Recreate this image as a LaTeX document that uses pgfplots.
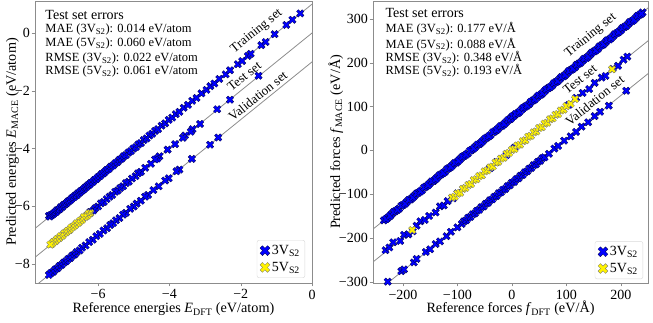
\documentclass[border=0pt]{standalone}
\usepackage{fontspec}
\setmainfont{Liberation Serif}
\usepackage{pgfplots}
\pgfplotsset{compat=1.18}

% filled "X" marker like matplotlib's 'X'
\pgfdeclareplotmark{bigX}{%
  \pgftransformrotate{45}%
  \pgfpathmoveto{\pgfqpoint{0.32\pgfplotmarksize}{\pgfplotmarksize}}%
  \pgfpathlineto{\pgfqpoint{0.32\pgfplotmarksize}{0.32\pgfplotmarksize}}%
  \pgfpathlineto{\pgfqpoint{\pgfplotmarksize}{0.32\pgfplotmarksize}}%
  \pgfpathlineto{\pgfqpoint{\pgfplotmarksize}{-0.32\pgfplotmarksize}}%
  \pgfpathlineto{\pgfqpoint{0.32\pgfplotmarksize}{-0.32\pgfplotmarksize}}%
  \pgfpathlineto{\pgfqpoint{0.32\pgfplotmarksize}{-\pgfplotmarksize}}%
  \pgfpathlineto{\pgfqpoint{-0.32\pgfplotmarksize}{-\pgfplotmarksize}}%
  \pgfpathlineto{\pgfqpoint{-0.32\pgfplotmarksize}{-0.32\pgfplotmarksize}}%
  \pgfpathlineto{\pgfqpoint{-\pgfplotmarksize}{-0.32\pgfplotmarksize}}%
  \pgfpathlineto{\pgfqpoint{-\pgfplotmarksize}{0.32\pgfplotmarksize}}%
  \pgfpathlineto{\pgfqpoint{-0.32\pgfplotmarksize}{0.32\pgfplotmarksize}}%
  \pgfpathlineto{\pgfqpoint{-0.32\pgfplotmarksize}{\pgfplotmarksize}}%
  \pgfpathclose
  \pgfusepathqfillstroke
}

\tikzset{
  errtitle/.style={anchor=base west, font=\fontsize{14}{16}\selectfont},
  errline/.style={anchor=base west, font=\fontsize{12.5}{14}\selectfont},
  setlabel/.style={rotate=39, font=\fontsize{13}{15}\selectfont},
  axlabel/.style={anchor=base, font=\fontsize{14.2}{17}\selectfont},
}

\pgfplotsset{
  vthree/.style={only marks, mark=bigX, mark size=4pt,
    mark options={fill=blue, draw=black!70!blue, line width=0.3pt}},
  vfive/.style={only marks, mark=bigX, mark size=4pt,
    mark options={fill=yellow, draw=black!55, line width=0.3pt}},
  diag/.style={black!45, line width=0.8pt, forget plot},
  panel/.style={
    scale only axis, clip=true,
    axis line style={black!45}, tick style={black!45},
    tick align=outside, tick pos=left, major tick length=3.5pt,
    ticklabel style={font=\fontsize{14}{16}\selectfont},
    xticklabel style={inner sep=3pt},
    yticklabel style={inner sep=1.5pt},
    legend cell align=left,
    legend image post style={mark size=5.3pt},
    legend style={anchor=south east, draw=black!15, rounded corners=2pt,
      font=\fontsize{14}{16}\selectfont, row sep=2pt, inner sep=3pt},
  },
}

\begin{document}
\begin{tikzpicture}
% ---------------- energies ----------------
\begin{axis}[panel, name=E, at={(0pt,0pt)}, width=277pt, height=282pt,
  xmin=-7.77, xmax=0, ymin=-8.66, ymax=1.11,
  xtick={-6,-4,-2,0}, xticklabels={−6,−4,−2,0},
  ytick={-8,-6,-4,-2,0}, yticklabels={−8,−6,−4,−2,0},
  legend style={at={(0.975,0.018)}},
]
% training set, shifted by +1
\addplot[vthree] coordinates {
(-7.38,-6.33)(-7.35,-6.36)(-7.32,-6.30)(-7.28,-6.29)(-7.25,-6.26)(-7.22,-6.22)
(-7.18,-6.20)(-7.15,-6.14)(-7.11,-6.12)(-7.08,-6.10)(-7.04,-6.03)(-7.00,-6.02)
(-6.96,-5.95)(-6.92,-5.93)(-6.88,-5.89)(-6.84,-5.83)(-6.80,-5.81)(-6.76,-5.77)
(-6.72,-5.71)(-6.68,-5.69)(-6.64,-5.63)(-6.60,-5.62)(-6.56,-5.55)(-6.52,-5.53)
(-6.48,-5.47)(-6.44,-5.45)(-6.40,-5.41)(-6.36,-5.35)(-6.32,-5.33)(-6.28,-5.27)
(-6.24,-5.25)(-6.20,-5.19)(-6.15,-5.16)(-6.10,-5.09)(-6.05,-5.06)(-6.00,-4.99)
(-5.95,-4.96)(-5.90,-4.89)(-5.85,-4.86)(-5.80,-4.80)(-5.75,-4.74)(-5.70,-4.71)
(-5.64,-4.63)(-5.58,-4.59)(-5.52,-4.51)(-5.46,-4.47)(-5.40,-4.39)(-5.34,-4.35)
(-5.28,-4.27)(-5.22,-4.23)(-5.15,-4.14)(-5.08,-4.09)(-5.01,-4.00)(-4.94,-3.95)
(-4.87,-3.86)(-4.80,-3.81)(-4.72,-3.71)(-4.64,-3.65)(-4.56,-3.55)(-4.48,-3.49)
(-4.40,-3.39)(-4.32,-3.33)(-4.22,-3.21)(-4.12,-3.13)(-4.02,-3.01)(-3.92,-2.93)
(-3.82,-2.81)(-3.72,-2.73)(-3.60,-2.59)(-3.48,-2.49)(-3.36,-2.35)(-3.24,-2.25)
(-3.10,-2.09)(-2.96,-1.97)(-2.85,-1.84)(-2.74,-1.75)(-2.60,-1.59)(-2.42,-1.43)
(-2.30,-1.29)(-2.08,-1.08)(-1.96,-0.97)(-1.80,-0.79)(-1.72,-0.72)(-1.42,-0.42)
(-1.30,-0.31)(-1.05,-0.04)(-0.72,0.28)(-0.55,0.46)(-0.33,0.68)
};
\addlegendentry{3V\textsubscript{S2}}
% test set
\addplot[vthree, forget plot] coordinates {
(-1.50,-1.48)(-2.30,-2.31)(-2.66,-2.64)(-3.14,-3.15)(-3.35,-3.33)(-3.40,-3.42)
(-3.56,-3.55)(-3.62,-3.63)(-3.84,-3.85)(-4.05,-4.04)(-4.28,-4.27)(-4.34,-4.35)
(-4.40,-4.38)(-4.52,-4.53)(-4.68,-4.67)(-4.80,-4.81)(-4.88,-4.86)(-4.95,-4.96)
(-5.05,-5.04)(-5.14,-5.15)(-5.22,-5.20)(-5.30,-5.31)(-5.38,-5.37)(-5.45,-5.46)
(-5.52,-5.50)(-5.60,-5.61)(-5.68,-5.67)(-5.76,-5.75)(-5.84,-5.85)(-5.92,-5.90)
(-6.00,-6.01)(-6.08,-6.07)(-6.14,-6.15)(-6.22,-6.20)(-6.30,-6.31)
};
\addplot[vfive] coordinates {
(-6.22,-6.24)(-6.26,-6.25)(-6.30,-6.32)(-6.35,-6.36)(-6.40,-6.38)(-6.45,-6.47)
(-6.50,-6.50)(-6.55,-6.57)(-6.60,-6.59)(-6.65,-6.66)(-6.70,-6.71)(-6.75,-6.74)
(-6.80,-6.82)(-6.85,-6.85)(-6.90,-6.91)(-6.95,-6.94)(-7.00,-7.02)(-7.05,-7.04)
(-7.10,-7.11)(-7.15,-7.14)(-7.20,-7.21)(-7.25,-7.24)(-7.30,-7.31)(-7.34,-7.33)
};
\addlegendentry{5V\textsubscript{S2}}
% validation set, shifted by -1
\addplot[vthree, forget plot] coordinates {
(-2.63,-3.62)(-2.86,-3.87)(-3.37,-4.36)(-3.72,-4.73)(-3.80,-4.79)(-4.02,-5.03)
(-4.12,-5.11)(-4.30,-5.31)(-4.45,-5.44)(-4.60,-5.61)(-4.68,-5.67)(-4.80,-5.81)
(-4.92,-5.91)(-5.00,-6.01)(-5.10,-6.09)(-5.22,-6.23)(-5.30,-6.29)(-5.40,-6.41)
(-5.50,-6.49)(-5.58,-6.59)(-5.66,-6.65)(-5.75,-6.76)(-5.85,-6.84)(-5.95,-6.96)
(-6.05,-7.04)(-6.15,-7.16)(-6.25,-7.24)(-6.35,-7.36)(-6.45,-7.44)(-6.52,-7.53)
(-6.60,-7.59)(-6.66,-7.67)(-6.72,-7.71)(-6.78,-7.79)(-6.84,-7.83)(-6.90,-7.91)
(-6.96,-7.95)(-7.02,-8.03)(-7.08,-8.07)(-7.14,-8.15)(-7.20,-8.19)(-7.26,-8.27)
(-7.32,-8.31)(-7.38,-8.38)
};
\addplot[diag] coordinates {(-9,-8)(1,2)};
\addplot[diag] coordinates {(-9,-9)(1,1)};
\addplot[diag] coordinates {(-9,-10)(1,0)};
\node[setlabel] at (axis cs:-1.55,0.06) {Training set};
\node[setlabel] at (axis cs:-1.90,-1.50) {Test set};
\node[setlabel] at (axis cs:-1.52,-2.18) {Validation set};
\node[errtitle] at (rel axis cs:0.025,0.936) {Test set errors};
\node[errline] at (rel axis cs:0.025,0.887) {MAE (3V\textsubscript{S2}): 0.014 eV/atom};
\node[errline] at (rel axis cs:0.025,0.837) {MAE (5V\textsubscript{S2}): 0.060 eV/atom};
\node[errline] at (rel axis cs:0.025,0.784) {RMSE (3V\textsubscript{S2}): 0.022 eV/atom};
\node[errline] at (rel axis cs:0.025,0.738) {RMSE (5V\textsubscript{S2}): 0.061 eV/atom};
\end{axis}
\node[axlabel] at ([yshift=-30pt]E.south)
  {Reference energies \textit{E}\textsubscript{DFT} (eV/atom)};
\node[axlabel, rotate=90] at ([xshift=-19pt]E.west)
  {Predicted energies \textit{E}\textsubscript{MACE} (eV/atom)};

% ---------------- forces ----------------
\begin{axis}[panel, name=F, at={(338pt,0pt)}, width=275pt, height=282pt,
  xmin=-255, xmax=250, ymin=-303, ymax=341,
  xtick={-200,-100,0,100,200}, xticklabels={−200,−100,0,100,200},
  ytick={-300,-200,-100,0,100,200,300},
  yticklabels={−300,−200,−100,0,100,200,300},
  legend style={at={(0.982,0.014)}},
]
% training set, shifted by +75
\addplot[vthree] coordinates {
(-235,-160)(-228,-154)(-221,-146)(-214,-139)(-207,-133)(-200,-125)(-193,-118)
(-186,-112)(-179,-104)(-172,-97)(-165,-91)(-158,-83)(-151,-76)(-144,-70)
(-137,-62)(-130,-55)(-123,-49)(-116,-41)(-109,-34)(-102,-28)(-95,-20)(-88,-13)
(-81,-7)(-74,1)(-67,8)(-60,14)(-53,22)(-46,29)(-39,35)(-32,43)(-25,50)(-18,56)
(-11,64)(-4,71)(0,76)(4,79)(11,85)(18,93)(25,100)(32,106)(39,114)(46,121)
(53,127)(60,135)(67,142)(74,148)(81,156)(88,163)(95,169)(102,177)(109,184)
(116,190)(123,198)(130,205)(137,211)(144,219)(151,226)(158,232)(165,240)
(172,247)(179,253)(186,261)(193,268)(200,274)(207,282)(214,289)(221,295)
(228,303)(235,310)(240,315)
(-231,-157)(-224,-150)(-217,-141)(-210,-136)(-203,-127)(-196,-122)(-189,-113)
(-182,-108)(-175,-99)(-168,-94)(-161,-85)(-154,-80)(-147,-71)(-140,-66)
(-133,-57)(-126,-52)(-119,-43)(-112,-38)(-105,-29)(-98,-24)(-91,-15)(-84,-10)
(-77,-1)(-70,4)(-63,13)(-56,18)(-49,27)(-42,32)(-35,41)(-28,46)(-21,55)(-14,60)
(-7,69)(-2,72)(2,78)(7,83)(14,88)(21,97)(28,102)(35,111)(42,116)(49,125)
(56,130)(63,139)(70,144)(77,153)(84,158)(91,167)(98,172)(105,181)(112,186)
(119,195)(126,200)(133,209)(140,214)(147,223)(154,228)(161,237)(168,242)
(175,251)(182,256)(189,265)(196,270)(203,279)(210,284)(217,293)(224,298)
(231,307)(238,312)
};
\addlegendentry{3V\textsubscript{S2}}
% test set
\addplot[vthree, forget plot] coordinates {
(-232,-228)(-225,-222)(-218,-210)(-205,-207)(-198,-193)(-190,-192)(-182,-185)
(-175,-172)(-168,-162)(-160,-159)(-152,-150)(-140,-142)(-132,-128)(-125,-126)
(-118,-116)(-108,-110)(-100,-98)(-40,-41)(-28,-27)(-10,-11)(5,6)
(105,104)(118,120)(130,131)(142,140)(152,154)(165,166)(172,170)(185,186)
(195,193)(205,207)(212,214)
};
\addplot[vfive] coordinates {
(-110,-108)(-105,-106)(-100,-99)(-95,-97)(-90,-88)(-85,-86)(-80,-79)(-75,-77)
(-70,-68)(-65,-66)(-60,-59)(-55,-57)(-50,-48)(-45,-46)(-40,-39)(-35,-37)
(-30,-28)(-25,-26)(-20,-19)(-15,-17)(-10,-8)(-5,-6)(0,1)(5,3)(10,11)(15,13)
(20,21)(25,23)(30,31)(35,33)(40,41)(45,43)(50,51)(55,53)(60,61)(65,63)(70,71)
(75,73)(80,81)(85,83)(90,91)(95,93)(100,101)(108,106)(116,117)(184,185)(-183,-182)
};
\addlegendentry{5V\textsubscript{S2}}
% validation set, shifted by -75
\addplot[vthree, forget plot] coordinates {
(-228,-300)(-203,-276)(-198,-272)(-180,-256)(-175,-248)(-158,-232)(-150,-226)
(-140,-214)(-132,-208)(-120,-196)(-112,-186)(-100,-176)(-92,-168)
(-88,-162)(-84,-160)(-80,-154)(-76,-152)(-72,-146)(-68,-144)(-64,-138)(-60,-136)
(-56,-130)(-52,-128)(-48,-122)(-44,-120)(-40,-114)(-36,-112)(-32,-106)(-28,-104)
(-24,-98)(-20,-96)(-16,-90)(-12,-88)(-8,-82)(-4,-80)(0,-74)(4,-72)(8,-66)(12,-64)
(16,-58)(20,-56)(24,-50)(28,-48)(32,-42)(36,-40)(40,-34)(44,-32)(48,-26)(52,-24)
(56,-18)(60,-16)(68,-8)(78,4)(85,10)(96,22)(108,32)(118,42)(128,54)(140,64)
(152,78)(162,88)(178,102)(210,136)
};
\addplot[diag] coordinates {(-300,-225)(300,375)};
\addplot[diag] coordinates {(-300,-300)(300,300)};
\addplot[diag] coordinates {(-300,-375)(300,225)};
\node[setlabel] at (axis cs:145,262) {Training set};
\node[setlabel] at (axis cs:125,162) {Test set};
\node[setlabel] at (axis cs:152,114) {Validation set};
\node[errtitle] at (rel axis cs:0.033,0.940) {Test set errors};
\node[errline] at (rel axis cs:0.033,0.887) {MAE (3V\textsubscript{S2}): 0.177 eV/Å};
\node[errline] at (rel axis cs:0.033,0.833) {MAE (5V\textsubscript{S2}): 0.088 eV/Å};
\node[errline] at (rel axis cs:0.033,0.784) {RMSE (3V\textsubscript{S2}): 0.348 eV/Å};
\node[errline] at (rel axis cs:0.033,0.738) {RMSE (5V\textsubscript{S2}): 0.193 eV/Å};
\end{axis}
\node[axlabel] at ([yshift=-30pt]F.south)
  {Reference forces \textit{f}\textsubscript{DFT} (eV/Å)};
\node[axlabel, rotate=90] at ([xshift=-33pt]F.west)
  {Predicted forces \textit{f}\textsubscript{MACE} (eV/Å)};

\pgfresetboundingbox
\path (-35pt,-40pt) rectangle (618pt,283pt);
\end{tikzpicture}
\end{document}
